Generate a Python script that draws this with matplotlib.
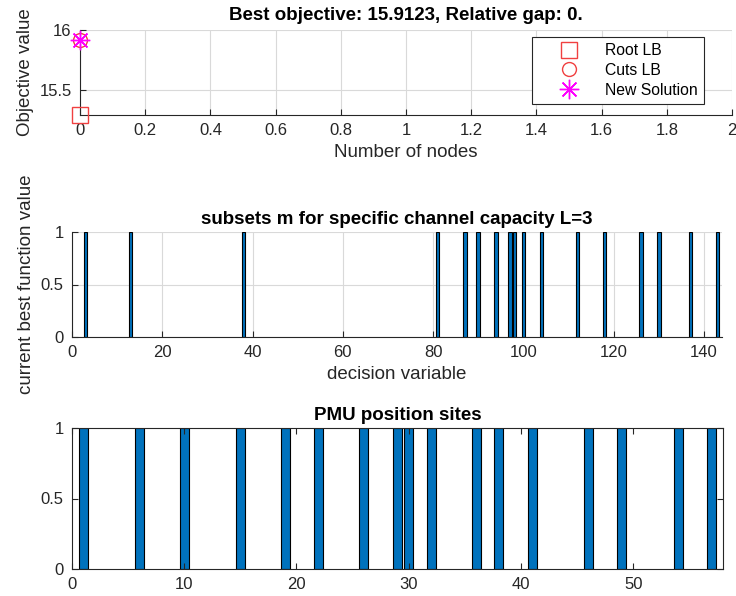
import numpy as np
import matplotlib
matplotlib.use('Agg')
from matplotlib import pyplot as plt

plt.rcParams['font.family'] = ['Liberation Sans', 'DejaVu Sans']

# top panel - branch and bound progress
best_obj = 15.9123
cuts_lb = 15.9123
root_lb = 15.288
node_ticks = [0, 0.2, 0.4, 0.6, 0.8, 1, 1.2, 1.4, 1.6, 1.8, 2]
node_labels = ['0', '0.2', '0.4', '0.6', '0.8', '1', '1.2', '1.4', '1.6', '1.8', '2']

# middle panel - selected decision variables
subset_idx = [3, 13, 38, 81, 87, 90, 94, 97, 98, 100, 104, 112, 118, 126, 130, 137, 143]
subset_val = [1] * len(subset_idx)

# bottom panel - PMU sites
pmu_sites = [1, 6, 10, 15, 19, 22, 26, 29, 30, 32, 36, 38, 41, 46, 49, 54, 57]
pmu_val = [1] * len(pmu_sites)

W, H = 736, 596
blue = '#0072BD'
txt = '#262626'

def box(l, t, r, b):
    return [l / W, (H - b) / H, (r - l) / W, (b - t) / H]

def style(ax, grid=True, boxon=False):
    ax.tick_params(direction='in', colors=txt, labelsize=12, length=4, pad=6)
    for s in ['left', 'bottom', 'top', 'right']:
        ax.spines[s].set_color('#262626')
        ax.spines[s].set_linewidth(0.8)
    if not boxon:
        ax.spines['top'].set_visible(False)
        ax.spines['right'].set_visible(False)
    else:
        ax.tick_params(top=True, right=True)
    if grid:
        ax.grid(True, color='#d9d9d9', linewidth=0.8)
        ax.set_axisbelow(True)

fig = plt.figure(figsize=(W / 100, H / 100), dpi=100)

#01. objective
ax1 = fig.add_axes(box(80, 30, 732, 115))
style(ax1)
ax1.plot([0], [root_lb], 's', ms=11, mfc='none', mec='#f04040', mew=1.0, label='Root LB', clip_on=False, zorder=5)
ax1.plot([0], [cuts_lb], 'o', ms=10, mfc='none', mec='#f04040', mew=1.0, label='Cuts LB', clip_on=False, zorder=5)
ax1.plot([0], [best_obj], marker=(8, 2, 0), ls='none', ms=14, color='#ff00ff', mew=1.0, label='New Solution', clip_on=False, zorder=6)
ax1.set_xlim(0, 2)
ax1.set_ylim(root_lb, 16)
ax1.set_xticks(node_ticks)
ax1.set_xticklabels(node_labels)
ax1.set_yticks([15.5, 16])
ax1.set_yticklabels(['15.5', '16'])
ax1.set_xlabel('Number of nodes', fontsize=13.5, color=txt)
ax1.set_ylabel('Objective value', fontsize=13.5, color=txt)
ax1.set_title('Best objective: 15.9123, Relative gap: 0.', fontsize=13.5, fontweight='bold', pad=7)
leg = ax1.legend(loc='upper right', bbox_to_anchor=(0.957, 0.918), fontsize=11.3, fancybox=False,
                 edgecolor='#262626', framealpha=1, borderaxespad=0, handlelength=3.9,
                 handletextpad=0.35, labelspacing=0.3, borderpad=0.4)
leg.get_frame().set_linewidth(0.8)

#02. subsets
ax2 = fig.add_axes(box(72, 232, 722, 337))
style(ax2)
ax2.bar(subset_idx, subset_val, width=0.8, color=blue, edgecolor='black', linewidth=0.8)
ax2.set_xlim(0, 144)
ax2.set_ylim(0, 1)
ax2.set_xticks(np.arange(0, 141, 20))
ax2.set_yticks([0, 0.5, 1])
ax2.set_yticklabels(['0', '0.5', '1'])
ax2.set_xlabel('decision variable', fontsize=13.5, color=txt)
ax2.set_ylabel('current best function value', fontsize=13.5, color=txt)
ax2.set_title('subsets m for specific channel capacity L=3', fontsize=13.5, fontweight='bold', pad=6)

#03. PMU
ax3 = fig.add_axes(box(72, 428, 723, 569))
style(ax3, grid=False, boxon=True)
ax3.bar(pmu_sites, pmu_val, width=0.8, color=blue, edgecolor='black', linewidth=0.8)
ax3.set_xlim(0, 58)
ax3.set_ylim(0, 1)
ax3.set_xticks(np.arange(0, 51, 10))
ax3.set_yticks([0, 0.5, 1])
ax3.set_yticklabels(['0', '0.5', '1'])
ax3.set_title('PMU position sites', fontsize=13.5, fontweight='bold', pad=6)

plt.savefig('out.png', dpi=100)
